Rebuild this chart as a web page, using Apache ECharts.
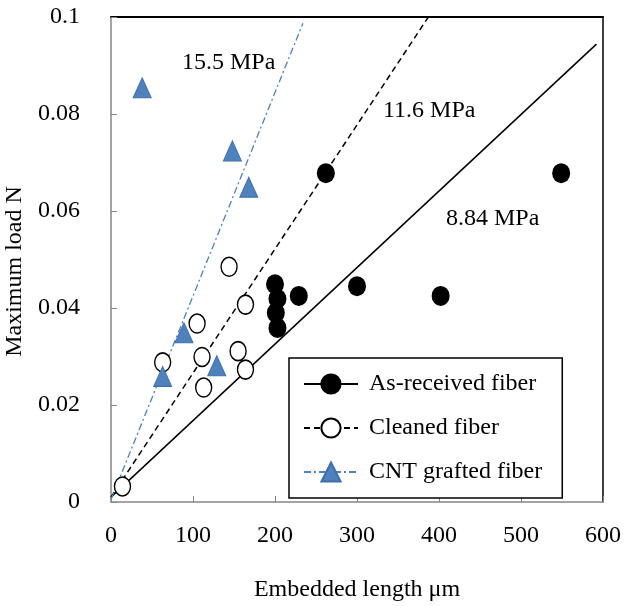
<!DOCTYPE html>
<html>
<head>
<meta charset="utf-8">
<script src="https://cdn.jsdelivr.net/npm/echarts@6/dist/echarts.min.js"></script>
<style>
  html, body { margin: 0; padding: 0; background: #fff; }
  #chart { width: 626px; height: 606px; }
</style>
</head>
<body>
<div id="chart"></div>
<script>
// points: [embedded length um, maximum load N]
var asReceived = [[200, 0.0449], [203, 0.0419], [201, 0.039], [203, 0.0359], [229, 0.0425],
                  [262, 0.0678], [300, 0.0445], [402, 0.0425], [549, 0.0678]];
var cleaned = [[144, 0.0485], [164, 0.0407], [105, 0.0368], [63, 0.0288], [111, 0.0299],
               [155, 0.0311], [164, 0.0273], [113, 0.0236], [14, 0.0032]];
var cntGrafted = [[38, 0.0854], [148, 0.0724], [168, 0.0649], [89, 0.0349], [63, 0.0259], [129, 0.0281]];

// fitted lines (end points)
var fitAsReceived = [[0, 0.001], [592, 0.0944]];
var fitCleaned = [[0, 0.001], [387, 0.1]];
var fitCnt = [[0, 0.0005], [234, 0.0987]];

var seriesNames = ['As-received fiber', 'Cleaned fiber', 'CNT grafted fiber'];
var fitLabels = ['8.84 MPa', '11.6 MPa', '15.5 MPa'];

var font = 'Liberation Serif';
var blue = '#4f81bd';

var chart = echarts.init(document.getElementById('chart'));

var option = {
  backgroundColor: '#fff',
  animation: false,
  textStyle: { fontFamily: font },
  grid: { left: 111, right: 23, top: 17, bottom: 104, containLabel: false, outerBoundsMode: 'none' },
  xAxis: [{
    type: 'value', min: 0, max: 600, interval: 100,
    name: 'Embedded length \u03bcm', nameLocation: 'middle', nameGap: 76,
    nameTextStyle: { fontFamily: font, fontSize: 24, color: '#000' },
    axisLine: { lineStyle: { color: '#868686', width: 1.5 } },
    axisTick: { inside: true, length: 6, lineStyle: { color: '#868686', width: 1 } },
    axisLabel: { fontFamily: font, fontSize: 24, color: '#000', margin: 22 },
    splitLine: { show: false }
  }, {
    type: 'value', min: 0, max: 600, position: 'top',
    axisLine: { onZero: false, lineStyle: { color: '#000', width: 2 } },
    axisTick: { show: false }, axisLabel: { show: false }, splitLine: { show: false }
  }],
  yAxis: [{
    type: 'value', min: 0, max: 0.1, interval: 0.02,
    name: 'Maximum load N', nameLocation: 'middle', nameGap: 83, nameRotate: 90,
    nameTextStyle: { fontFamily: font, fontSize: 24, color: '#000', padding: [0, 0, 0, -24] },
    axisLine: { show: true, lineStyle: { color: '#868686', width: 1.5 } },
    axisTick: { show: true, inside: true, length: 6, lineStyle: { color: '#868686', width: 1 } },
    axisLabel: { fontFamily: font, fontSize: 24, color: '#000', margin: 31 },
    splitLine: { show: false }
  }, {
    type: 'value', min: 0, max: 0.1, position: 'right',
    axisLine: { show: true, onZero: false, lineStyle: { color: '#000', width: 1.5 } },
    axisTick: { show: false }, axisLabel: { show: false }, splitLine: { show: false }
  }],
  legend: {
    data: seriesNames,
    orient: 'vertical',
    left: 289, top: 358,
    padding: [12, 20, 12, 14],
    itemGap: 16,
    itemWidth: 54, itemHeight: 24,
    backgroundColor: '#fff',
    borderColor: '#000', borderWidth: 1.5,
    textStyle: { fontFamily: font, fontSize: 24, color: '#000', lineHeight: 28, padding: [0, 0, 0, 6] }
  },
  graphic: [
    { type: 'text', left: 383, top: 99, z: 10,
      style: { text: fitLabels[1], fontFamily: font, fontSize: 24, fill: '#000' } },
    { type: 'text', left: 182, top: 51, z: 10,
      style: { text: fitLabels[2], fontFamily: font, fontSize: 24, fill: '#000' } },
    { type: 'text', left: 446, top: 207, z: 10,
      style: { text: fitLabels[0], fontFamily: font, fontSize: 24, fill: '#000' } }
  ],
  series: [
    { name: seriesNames[0], type: 'line', data: fitAsReceived, showSymbol: false, symbol: 'circle', z: 1,
      silent: true, lineStyle: { color: '#000', width: 1.5 },
      itemStyle: { color: '#000', borderColor: '#000', borderWidth: 1 } },
    { name: seriesNames[1], type: 'line', data: fitCleaned, showSymbol: false, symbol: 'circle', z: 1,
      silent: true, lineStyle: { color: '#000', width: 1.5, type: [6, 4] },
      itemStyle: { color: '#fff', borderColor: '#000', borderWidth: 1.5 } },
    { name: seriesNames[2], type: 'line', data: fitCnt, showSymbol: false, symbol: 'triangle', z: 1,
      silent: true, lineStyle: { color: blue, width: 1.3, type: [7, 3, 2, 3] },
      itemStyle: { color: blue, borderColor: '#3f6fa8', borderWidth: 1 } },
    { name: seriesNames[0], type: 'scatter', data: asReceived, symbol: 'circle', symbolSize: [18, 20], z: 3,
      itemStyle: { color: '#000', opacity: 1 } },
    { name: seriesNames[1], type: 'scatter', data: cleaned, symbol: 'circle', symbolSize: [16, 19], z: 3,
      itemStyle: { color: '#fff', borderColor: '#000', borderWidth: 1.5, opacity: 1 } },
    { name: seriesNames[2], type: 'scatter', data: cntGrafted, symbol: 'triangle', symbolSize: [18, 20], z: 3,
      itemStyle: { color: blue, borderColor: '#3f6fa8', borderWidth: 1, opacity: 1 } }
  ]
};

chart.setOption(option);
</script>
</body>
</html>
